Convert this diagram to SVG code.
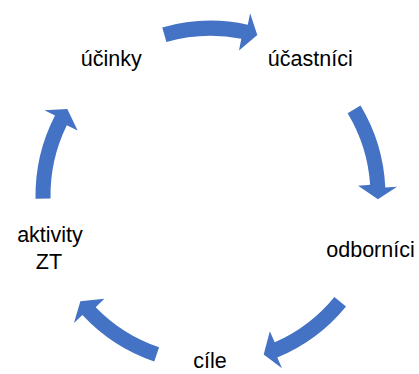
<svg xmlns="http://www.w3.org/2000/svg" xmlns:xlink="http://www.w3.org/1999/xlink" width="419" height="374" viewBox="0 0 419 374">
<style>
.lbl{font-family:"Liberation Sans",Arial,sans-serif;font-size:21.5px;fill:#000;text-anchor:middle}
.arr{fill:#4472C4}
</style>
<defs>
<path id="arc" class="arr" d="M -48.24,-168.22 A 175 175 0 0 1 37.28,-170.98 L 39.62,-182.5 L 46.8,-160.8 L 28.5,-145.2 L 30.80,-157.01 A 160 160 0 0 0 -44.10,-153.80 Z"/>
</defs>
<rect width="419" height="374" fill="#fff"/>
<g id="connectors" transform="translate(210.5,195.7)">
<use xlink:href="#arc" href="#arc"/>
<use xlink:href="#arc" href="#arc" transform="rotate(75)"/>
<use xlink:href="#arc" href="#arc" transform="rotate(145.25)"/>
<use xlink:href="#arc" href="#arc" transform="rotate(214.75)"/>
<use xlink:href="#arc" href="#arc" transform="rotate(285)"/>
</g>
<g id="node-ucinky"><text class="lbl" x="111.3" y="66">účinky</text></g>
<g id="node-ucastnici"><text class="lbl" x="310.3" y="66">účastníci</text></g>
<g id="node-odbornici"><text class="lbl" x="370.5" y="256.5">odborníci</text></g>
<g id="node-cile"><text class="lbl" x="210" y="368">cíle</text></g>
<g id="node-aktivity"><text class="lbl" x="50" y="242">aktivity</text><text class="lbl" x="49" y="268.5">ZT</text></g>
</svg>
